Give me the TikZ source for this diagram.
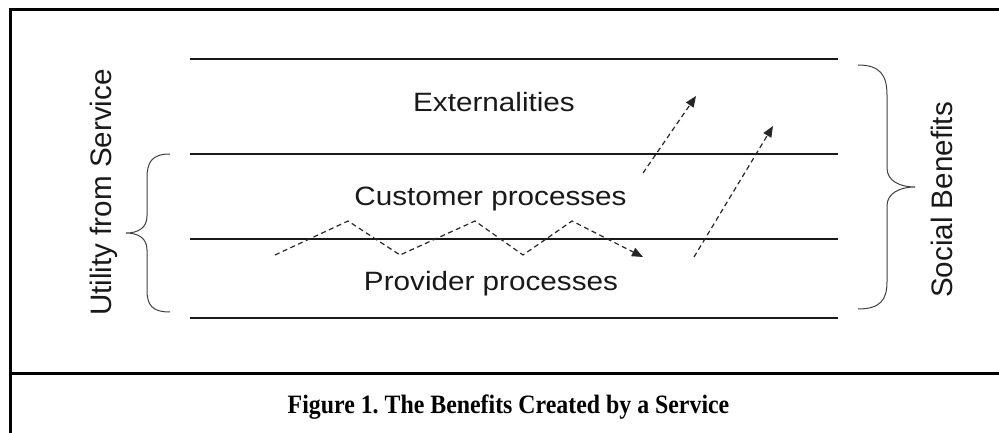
\documentclass[tikz,border=0pt]{standalone}
\usepackage{fontspec}
\usepackage{graphicx}
\setmainfont{Liberation Serif}
\newfontfamily\arialfont{Liberation Sans}
\usetikzlibrary{arrows.meta}
\frenchspacing
\tikzset{
  frameline/.style={line width=3pt, black},
  layerline/.style={line width=2.5pt, black!90},
  bracepath/.style={line width=1pt, black!75},
  flowarrow/.style={line width=1.2pt, black!85, dash pattern=on 5pt off 3.5pt, -{Triangle[length=11pt,width=9pt]}},
  lbl/.style={anchor=base, inner sep=0pt, text=black!90, font=\arialfont\fontsize{26.5}{26.5}\selectfont},
  vlbl/.style={inner sep=0pt, text=black!90, font=\arialfont\fontsize{29.6}{29.6}\selectfont, rotate=90},
  caption/.style={anchor=base, inner sep=0pt, font=\bfseries\fontsize{26.5}{26.5}\selectfont}
}
\begin{document}
\begin{tikzpicture}[x=1pt,y=-1pt]
\useasboundingbox (0,0) rectangle (999,433);
% frame
\draw[frameline] (10.5,433) -- (10.5,9.5) -- (999,9.5);
\draw[frameline] (10.5,373) -- (999,373);
% layer lines
\coordinate (l1a) at (190,59);  \coordinate (l1b) at (838,59);
\coordinate (l2a) at (190,154); \coordinate (l2b) at (838,154);
\coordinate (l3a) at (190,239); \coordinate (l3b) at (838,239);
\coordinate (l4a) at (190,318); \coordinate (l4b) at (838,318);
\draw[layerline] (l1a) -- (l1b);
\draw[layerline] (l2a) -- (l2b);
\draw[layerline] (l3a) -- (l3b);
\draw[layerline] (l4a) -- (l4b);
% labels
\node[lbl] (ext) at (494,111.5) {\scalebox{1.12}[1]{Externalities}};
\node[lbl] (cust) at (490.5,205) {\scalebox{1.12}[1]{Customer processes}};
\node[lbl] (prov) at (491,290.5) {\scalebox{1.12}[1]{Provider processes}};
\node[vlbl] (util) at (104,192.5) {Utility from Service};
\node[vlbl] (soc) at (942,200) {Social Benefits};
% left brace
\coordinate (lbt) at (170,154);
\coordinate (lbb) at (170,312);
\coordinate (lbtip) at (126,233);
\draw[bracepath] (lbt) .. controls (152,154) and (147,162) .. (147,178)
  -- (147,216) .. controls (147,228) and (138,233) .. (lbtip)
  .. controls (138,233) and (147,238) .. (147,250)
  -- (147,290) .. controls (147,305) and (152,312) .. (lbb);
% right brace
\coordinate (rbt) at (858,65);
\coordinate (rbb) at (858,309);
\coordinate (rbtip) at (915,187);
\draw[bracepath] (rbt) .. controls (880,65) and (887,75) .. (887,95)
  -- (887,168) .. controls (887,181) and (900,187) .. (rbtip)
  .. controls (900,187) and (887,193) .. (887,206)
  -- (887,282) .. controls (887,300) and (880,309) .. (rbb);
% zigzag flow
\coordinate (z0) at (275,255);
\coordinate (z1) at (348,221);
\coordinate (z2) at (400,255);
\coordinate (z3) at (475,221);
\coordinate (z4) at (523,255);
\coordinate (z5) at (572,221);
\coordinate (z6) at (643,257);
\draw[flowarrow] (z0) -- (z1) -- (z2) -- (z3) -- (z4) -- (z5) -- (z6);
% upward arrows
\coordinate (u1s) at (643,173);
\coordinate (u1e) at (696,96);
\coordinate (u2s) at (694,257);
\coordinate (u2e) at (773,126);
\draw[flowarrow] (u1s) -- (u1e);
\draw[flowarrow] (u2s) -- (u2e);
% caption
\node[caption] (cap) at (508.5,413) {\scalebox{0.9}[1]{Figure 1. The Benefits Created by a Service}};
\end{tikzpicture}
\end{document}
